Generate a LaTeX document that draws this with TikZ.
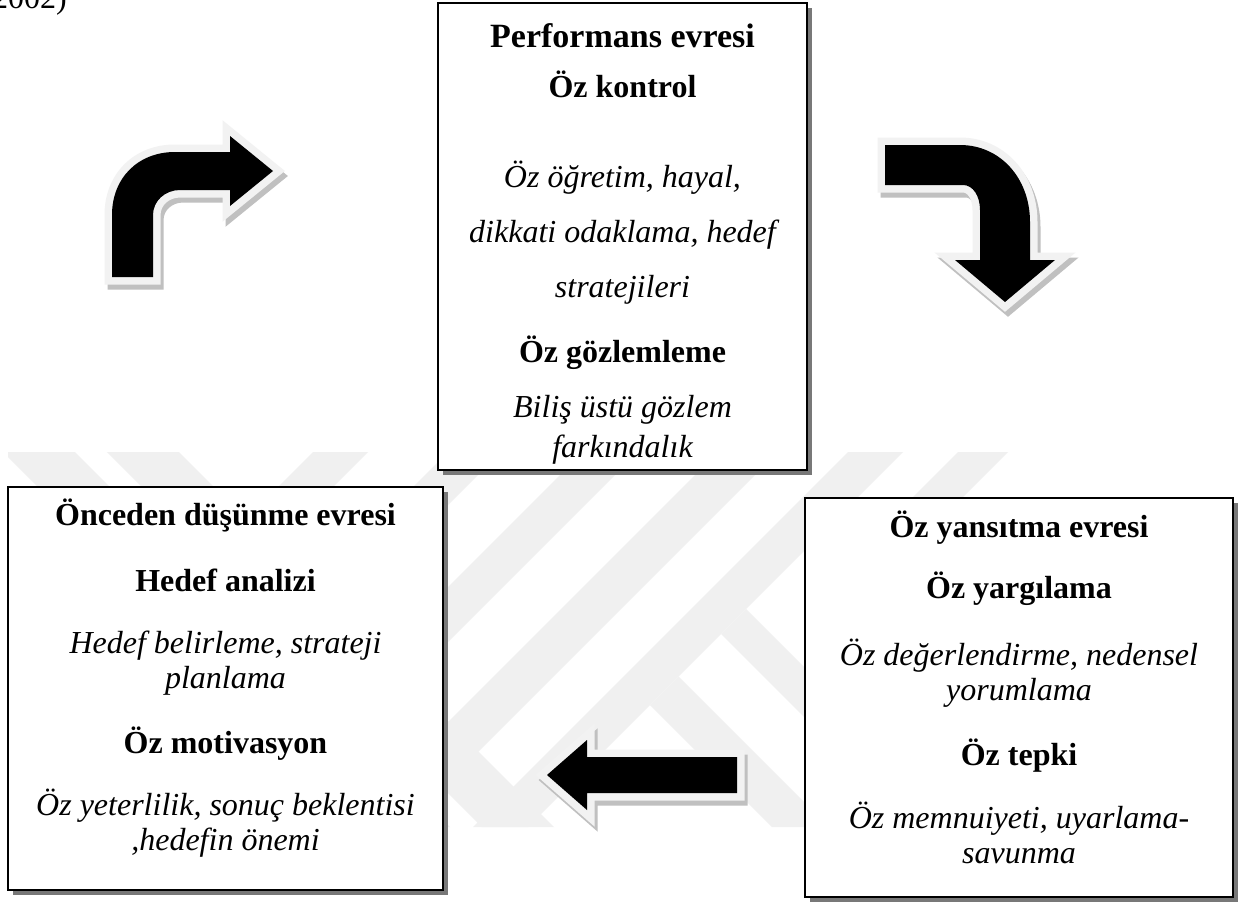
\documentclass[tikz,border=0pt]{standalone}
\usepackage{fontspec}
\setmainfont{Liberation Serif}
\usetikzlibrary{shadows}
\definecolor{wmgray}{RGB}{240,240,240}
\definecolor{arrowrim}{RGB}{242,242,242}
\definecolor{arrowshade}{RGB}{192,192,192}
\definecolor{boxshade}{RGB}{120,120,120}
\newcommand\pathArrowUR{(112,277) -- (112,215) .. controls (112,178) and (138,152) .. (175,152) -- (230,152) -- (230,136) -- (273,171) -- (230,206) -- (230,190) -- (180,190) .. controls (165,190) and (153,201) .. (153,215) -- (153,277) -- cycle}
\newcommand\pathArrowDR{(885,145) -- (960,145) .. controls (1000,145) and (1030,178) .. (1030,222) -- (1030,260) -- (1055,260) -- (1005,302) -- (955,260) -- (980,260) -- (980,210) .. controls (980,196) and (973,185) .. (963,185) -- (885,185) -- cycle}
\newcommand\pathArrowL{(737,757) -- (587,757) -- (587,740) -- (547,775) -- (587,810) -- (587,793) -- (737,793) -- cycle}
\begin{document}
\begin{tikzpicture}[x=1pt,y=-1pt,
  txt/.style={anchor=base,inner sep=0pt,font=\fontsize{32}{38}\selectfont},
  hd/.style={txt,font=\fontsize{32}{38}\selectfont\bfseries},
  itl/.style={txt,font=\fontsize{32}{38}\selectfont\itshape},
  phasebox/.style={draw=black,line width=1.3pt,fill=white,inner sep=0pt,
    drop shadow={shadow xshift=5pt,shadow yshift=-5pt,fill=boxshade,opacity=1}},
  wm/.style={fill=wmgray},
  arrowshadow/.style={fill=arrowshade,draw=arrowshade,line width=15pt,line join=miter},
  arrowrimstyle/.style={fill=arrowrim,draw=arrowrim,line width=15pt,line join=miter},
  arrowbody/.style={fill=black}]
\useasboundingbox (0,0) rectangle (1248,902);
\fill[white] (0,0) rectangle (1248,902);
% watermark
\begin{scope}
\clip (8,452) rectangle (1240,827);
\foreach \sa/\sb in {765/820,900/953,1035/1090,1170/1230,1300/1355}{
  \fill[wm] (\sa-435,435) -- (\sb-435,435) -- (\sb-827,827) -- (\sa-827,827) -- cycle;
}
\fill[wm] (1410-435,435) -- (1460-435,435) -- (1460-520,520) -- (1410-520,520) -- cycle;
\foreach \da/\db in {-449/-377,-345/-273}{
  \fill[wm] (\da+435,435) -- (\db+435,435) -- (\db+827,827) -- (\da+827,827) -- cycle;
}
\fill[wm] (650,705) -- (678.5,676.5) -- (829,827) -- (772,827) -- cycle;
\fill[wm] (721,634) -- (746,609) -- (964,827) -- (914,827) -- cycle;
\end{scope}
% top-left citation fragment
\node[txt,anchor=base east] (yr) at (67,9) {2002)};
% boxes
\node[phasebox,minimum width=369pt,minimum height=467pt] (box1) at (622.5,236.5) {};
\node[phasebox,minimum width=435pt,minimum height=403pt] (box2) at (225.5,688.5) {};
\node[phasebox,minimum width=428pt,minimum height=399pt] (box3) at (1019,697.5) {};
% box 1 text
\node[hd,font=\fontsize{34}{40}\selectfont\bfseries] (t1a) at (622.5,47) {Performans evresi};
\node[hd] (t1b) at (622.5,97) {Öz kontrol};
\node[itl] (t1c) at (622.5,187) {Öz öğretim, hayal,};
\node[itl] (t1d) at (622.5,242) {dikkati odaklama, hedef};
\node[itl] (t1e) at (622.5,297) {stratejileri};
\node[hd] (t1f) at (622.5,362) {Öz gözlemleme};
\node[itl] (t1g) at (622.5,417) {Biliş üstü gözlem};
\node[itl] (t1h) at (622.5,457) {farkındalık};
% box 2 text
\node[hd] (t2a) at (225.5,525) {Önceden düşünme evresi};
\node[hd] (t2b) at (225.5,591) {Hedef analizi};
\node[itl] (t2c) at (225.5,653) {Hedef belirleme, strateji};
\node[itl] (t2d) at (225.5,688) {planlama};
\node[hd] (t2e) at (225.5,753) {Öz motivasyon};
\node[itl] (t2f) at (225.5,815) {Öz yeterlilik, sonuç beklentisi};
\node[itl] (t2g) at (225.5,850) {,hedefin önemi};
% box 3 text
\node[hd] (t3a) at (1019,537) {Öz yansıtma evresi};
\node[hd] (t3b) at (1019,598) {Öz yargılama};
\node[itl] (t3c) at (1019,665) {Öz değerlendirme, nedensel};
\node[itl] (t3d) at (1019,700) {yorumlama};
\node[hd] (t3e) at (1019,765) {Öz tepki};
\node[itl] (t3f) at (1019,828) {Öz memnuiyeti, uyarlama-};
\node[itl] (t3g) at (1019,863) {savunma};
% block arrows
\begin{scope}[shift={(3,5)}]
\path[arrowshadow] \pathArrowUR;
\path[arrowshadow] \pathArrowDR;
\path[arrowshadow] \pathArrowL;
\end{scope}
\path[arrowrimstyle] \pathArrowUR;
\path[arrowrimstyle] \pathArrowDR;
\path[arrowrimstyle] \pathArrowL;
\path[arrowbody] \pathArrowUR;
\path[arrowbody] \pathArrowDR;
\path[arrowbody] \pathArrowL;
\end{tikzpicture}
\end{document}
